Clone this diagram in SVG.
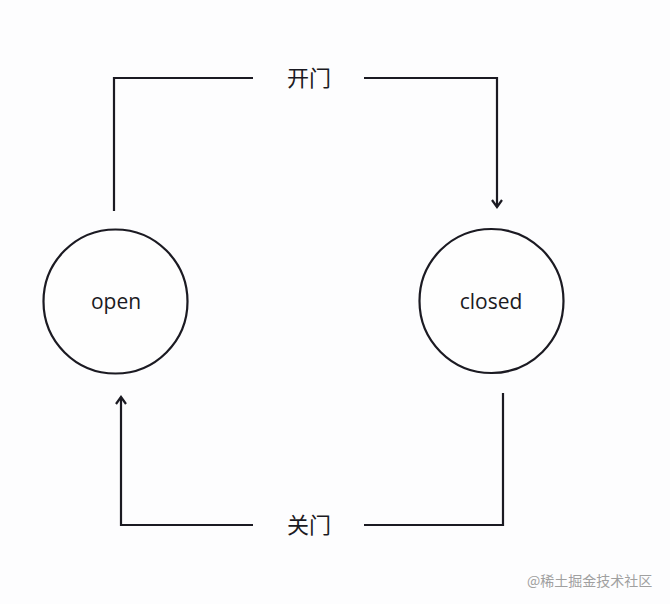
<svg xmlns="http://www.w3.org/2000/svg" width="670" height="604" viewBox="0 0 670 604">
<defs>
<style>
.ln{fill:none;stroke:#1b1a22;stroke-width:2.2}
.nd{fill:#fefefe;stroke:#1b1a22;stroke-width:2.2}
.nt{font-family:"Open Sans","Liberation Sans",sans-serif;font-size:21px;font-weight:500;fill:#1b1a22;text-anchor:middle}
.lb{font-family:"Noto Sans CJK SC","Noto Sans",sans-serif;font-size:22px;fill:#1b1a22;text-anchor:middle}
.wm{font-family:"Noto Sans CJK SC",sans-serif;font-size:14px;fill:#a0a0a0}
</style>
<marker id="ah" viewBox="0 0 12 12" refX="10" refY="6" markerWidth="12" markerHeight="12" markerUnits="userSpaceOnUse" orient="auto">
<path d="M3,1 L10,6 L3,11" fill="none" stroke="#1b1a22" stroke-width="2.2"/>
</marker>
</defs>
<rect width="670" height="604" fill="#fdfdfe"/>
<g id="connectors">
<path class="ln" d="M114,211 V78 H253"/>
<path class="ln" d="M364,78 H497 V207" marker-end="url(#ah)"/>
<path class="ln" d="M503,393 V525 H364"/>
<path class="ln" d="M253,525 H121 V397" marker-end="url(#ah)"/>
<text class="lb" x="309" y="86">开门</text>
<text class="lb" x="309" y="533">关门</text>
</g>
<g id="open">
<circle class="nd" cx="115.5" cy="301.5" r="72"/>
<text class="nt" x="116" y="309">open</text>
</g>
<g id="closed">
<circle class="nd" cx="491.5" cy="301" r="72"/>
<text class="nt" x="491" y="309">closed</text>
</g>
<text class="wm" x="527" y="586">@稀土掘金技术社区</text>
</svg>
